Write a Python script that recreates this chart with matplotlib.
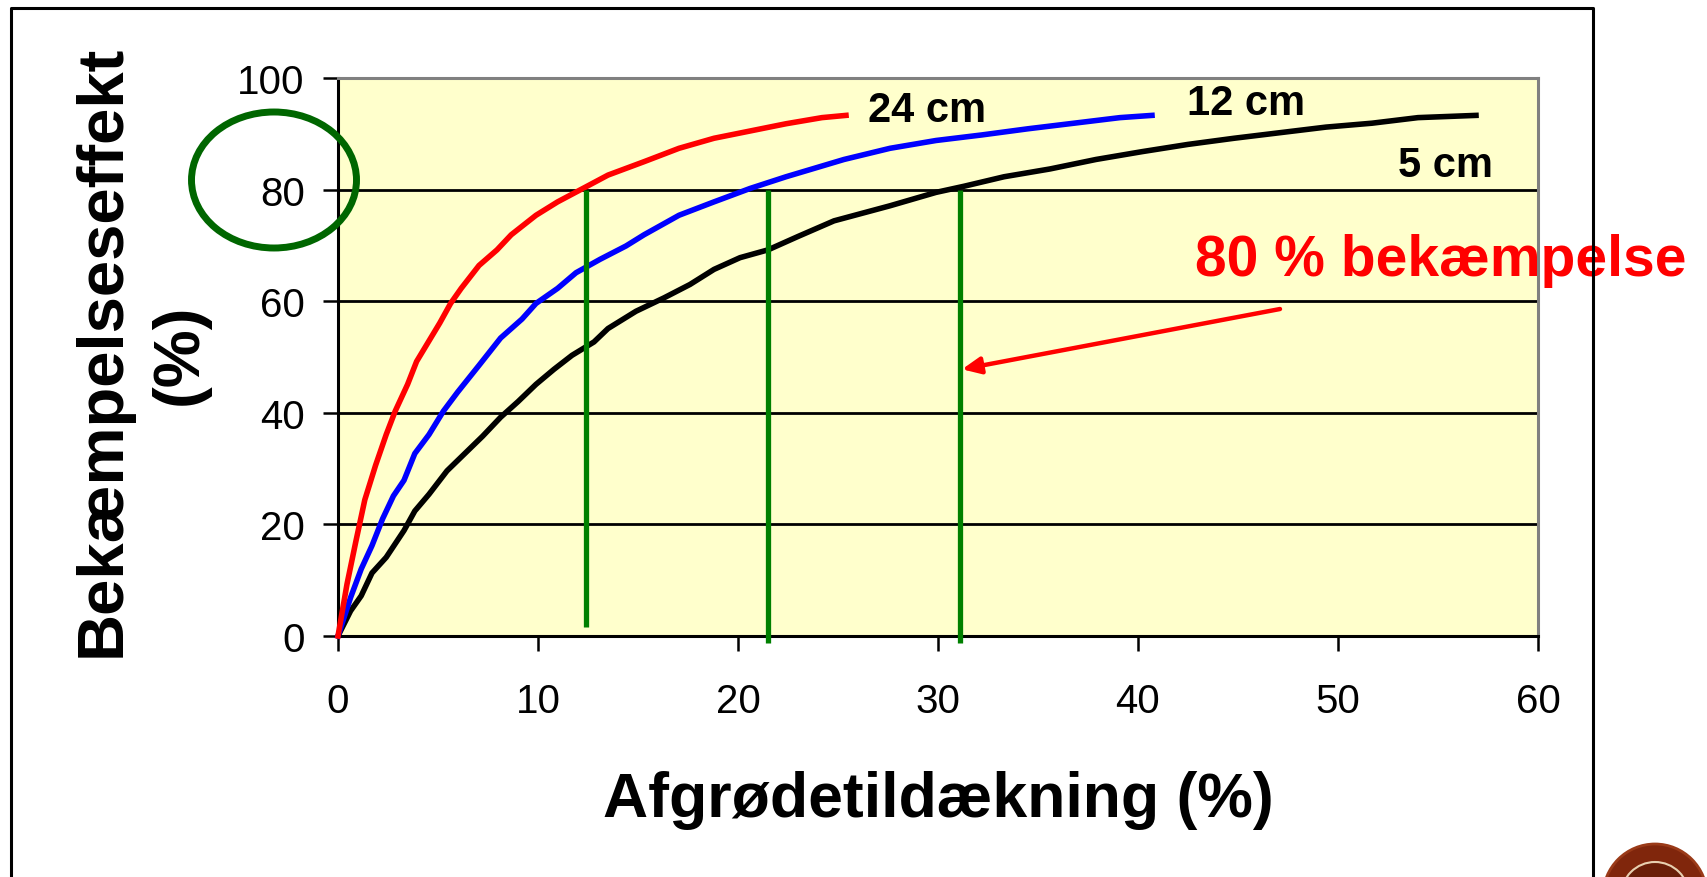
import matplotlib
matplotlib.use("Agg")
import matplotlib.pyplot as plt
from matplotlib.lines import Line2D
from matplotlib.patches import Ellipse, Circle, FancyArrowPatch

plt.rcParams['font.family'] = ['Liberation Sans', 'DejaVu Sans']

# ---- data ----
x_24 = [0, 0.45, 0.89, 1.34, 1.88, 2.41, 2.86, 3.48, 3.93, 5.09, 5.63, 6.16, 7.05, 7.95,
        8.66, 9.9, 10.98, 12.4, 13.5, 15.3, 17.05, 18.8, 20.6, 22.4, 24.2, 25.4]
y_24 = [0, 9.3, 16.9, 24.4, 30.6, 36.1, 40.3, 45.1, 49.2, 56.1, 59.6, 62.3, 66.4, 69.2,
        71.9, 75.4, 77.8, 80.5, 82.6, 85.0, 87.4, 89.2, 90.5, 91.8, 92.9, 93.3]

x_12 = [0, 0.63, 1.16, 1.7, 2.23, 2.77, 3.3, 3.84, 4.55, 5.27, 5.98, 7.05, 8.13, 9.2, 9.9,
        10.98, 11.9, 13.1, 14.4, 15.3, 17.05, 18.8, 20.6, 22.4, 25.3, 27.6, 29.9, 32.2,
        34.5, 36.8, 39.1, 40.7]
y_12 = [0, 6.9, 12.0, 16.2, 21.0, 25.1, 27.9, 32.7, 36.1, 40.3, 43.7, 48.5, 53.4, 56.8, 59.6,
        62.3, 65.1, 67.5, 69.9, 71.9, 75.4, 77.8, 80.2, 82.3, 85.4, 87.4, 88.8, 89.8,
        90.9, 91.9, 92.9, 93.3]

x_5 = [0, 0.63, 1.16, 1.7, 2.41, 3.3, 3.84, 4.55, 5.45, 6.34, 7.23, 8.13, 9.0, 9.9, 10.8,
       11.7, 12.8, 13.5, 14.9, 16.3, 17.6, 18.8, 20.1, 21.5, 23.0, 24.8, 27.6, 29.9, 31.3,
       33.3, 35.6, 37.9, 40.2, 42.5, 44.8, 47.1, 49.4, 51.7, 54.0, 56.9]
y_5 = [0, 4.5, 7.2, 11.3, 14.1, 18.9, 22.4, 25.4, 29.6, 32.7, 35.8, 39.2, 42.0, 45.1, 47.8,
       50.3, 52.7, 55.1, 58.2, 60.6, 63.0, 65.7, 67.8, 69.2, 71.6, 74.4, 77.1, 79.5, 80.6,
       82.3, 83.7, 85.4, 86.8, 88.1, 89.2, 90.2, 91.2, 91.9, 92.9, 93.3]

# vertical markers at 80 % control
vline_x = [12.4, 21.5, 31.1]
vline_bottom = [1.7, -1.2, -1.2]
vline_top = 80

xticks = [0, 10, 20, 30, 40, 50, 60]
yticks = [0, 20, 40, 60, 80, 100]

W, H = 1708, 878
fig = plt.figure(figsize=(W / 100, H / 100), dpi=100)
fig.patch.set_facecolor('white')

ax = fig.add_axes([338 / W, 1 - 637 / H, 1200 / W, 558 / H])
ax.set_facecolor('#FFFFCC')
ax.set_xlim(0, 60)
ax.set_ylim(0, 100)
ax.set_xticks(xticks)
ax.set_yticks(yticks)
ax.tick_params(axis='both', labelsize=29, length=11, width=1.8, direction='out', color='black')
ax.tick_params(axis='y', pad=13)
ax.tick_params(axis='x', pad=22)
for yv in yticks[1:-1]:
    ax.axhline(yv, color='black', lw=2.0, zorder=1)

for s in ['left', 'bottom']:
    ax.spines[s].set_color('black')
    ax.spines[s].set_linewidth(2.2)
for s in ['top', 'right']:
    ax.spines[s].set_color('#808080')
    ax.spines[s].set_linewidth(2.2)

ax.plot(x_5, y_5, color='black', lw=4, zorder=3, clip_on=False)
ax.plot(x_12, y_12, color='#0000FF', lw=4, zorder=3, clip_on=False)
ax.plot(x_24, y_24, color='#FF0000', lw=4, zorder=3, clip_on=False)

for vx, vb in zip(vline_x, vline_bottom):
    ax.plot([vx, vx], [vb, vline_top], color='#008000', lw=3.8, zorder=4, clip_on=False,
            solid_capstyle='butt')

ax.text(26.5, 94.3, '24 cm', fontsize=30, fontweight='bold', va='center', ha='left')
ax.text(42.45, 95.5, '12 cm', fontsize=30, fontweight='bold', va='center', ha='left')
ax.text(53.0, 84.4, '5 cm', fontsize=30, fontweight='bold', va='center', ha='left')
ax.text(42.85, 67.4, '80 % bekæmpelse', fontsize=41, fontweight='bold', color='#FF0000',
        va='center', ha='left', zorder=6)

arr = FancyArrowPatch((47.1, 58.6), (31.2, 47.8), arrowstyle='-|>,head_length=11,head_width=5',
                      color='#FF0000', lw=3.2, zorder=6, shrinkA=0, shrinkB=0)
ax.add_patch(arr)

ax.set_xlabel('Afgrødetildækning (%)', fontsize=45, fontweight='bold', labelpad=36)

# y label (two lines)
fig.text(103 / W, 1 - 351 / H, 'Bekæmpelseseffekt', rotation=90, fontsize=47,
         fontweight='bold', ha='center', va='center')
fig.text(180 / W, 1 - 354 / H, '(%)', rotation=90, fontsize=47,
         fontweight='bold', ha='center', va='center')

# green ellipse highlighting 80
ell = Ellipse((274 / W, 1 - 181 / H), 165 / W, 136 / H, transform=fig.transFigure,
              fill=False, edgecolor='#006600', lw=5, zorder=10)
fig.patches.append(ell)

# outer frame
bx = [11 / W, 11 / W, 1593 / W, 1593 / W]
by = [-0.01, 1 - 9 / H, 1 - 9 / H, -0.01]
fig.add_artist(Line2D(bx, by, color='black', lw=2.2, transform=fig.transFigure))

# partial seal logo at bottom-right
seal = Circle((1655, H - 897), 52, transform=None, facecolor='#80260c', edgecolor='#9a3a18',
              lw=2, zorder=5)
fig.patches.append(seal)
seal2 = Circle((1655, H - 897), 34, transform=None, facecolor='#6a1e08', edgecolor='#e8d0b0',
               lw=1.5, zorder=6)
fig.patches.append(seal2)

fig.savefig('out.png', dpi=100)
